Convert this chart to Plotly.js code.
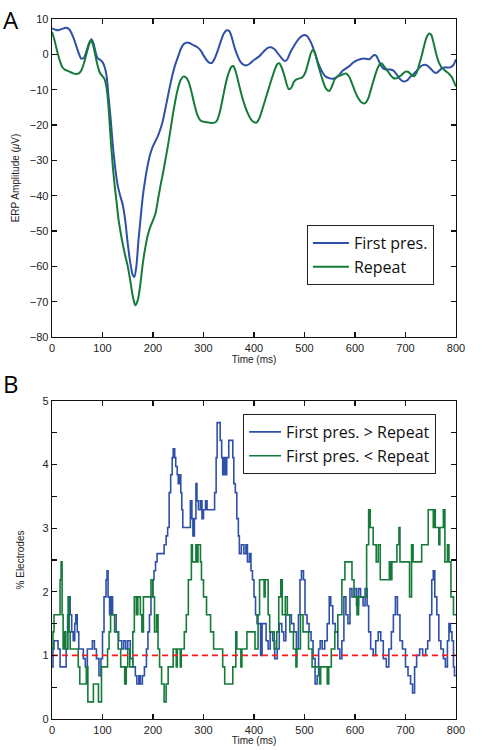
<!DOCTYPE html>
<html>
<head>
<meta charset="utf-8">
<script src="https://cdn.plot.ly/plotly-3.0.1.min.js"></script>
<style>html,body{margin:0;padding:0;background:#fff;}#chart{width:487px;height:750px;}</style>
</head>
<body>
<div id="chart"></div>
<script>
// ---------- Panel A: ERP waveforms ----------
const erpTimeFirst = [0,6,12,20,27,33,38,43,48,53,58,63,68,73,78,82,86,90,96,100,104,108,112,116,120,125,130,135,140,145,150,155,160,163,167,171,175,180,185,190,195,200,205,210,215,220,225,230,235,240,245,250,255,260,266,272,280,288,295,300,306,312,317,322,328,334,340,346,351,356,362,368,374,380,386,392,398,404,410,416,422,428,434,440,446,452,458,462,466,472,478,484,490,496,500,505,510,515,520,525,530,536,542,550,556,563,570,576,583,590,596,603,610,617,623,629,633,638,642,647,652,657,662,670,676,682,688,694,698,703,708,714,720,726,731,736,741,746,752,757,762,767,772,777,784,790,795,800];
const erpFirst = [7.3,7.0,6.8,7.2,7.5,7.2,6.2,4.5,2.4,0.3,-1.2,-1.0,0.8,3.0,4.3,3.2,0.8,-1.0,-1.6,-2.2,-3.5,-6.0,-12,-18,-25,-32,-37,-40,-42.5,-47,-53.6,-59,-62.5,-63,-60,-53,-47,-40,-35,-31,-28,-26,-24.5,-23,-21,-18.5,-15,-11.5,-8,-5,-2.5,-0.5,1.5,2.8,3.3,3.2,2.6,2.0,1.0,-0.3,-1.6,-2.4,-2.4,-1.2,1.0,3.6,5.8,6.8,6.6,4.8,1.7,-0.6,-2.3,-3.0,-3.1,-2.6,-1.8,-1.2,-0.6,0.3,1.2,1.9,2.0,1.5,0.5,-0.6,-1.6,-1.9,-1.4,0.6,2.1,3.5,4.6,5.3,5.5,5.2,4.1,2.6,0.6,-1.6,-3.5,-5.2,-6.3,-6.8,-6.9,-6.6,-5.6,-4.6,-3.9,-3.2,-2.4,-1.8,-1.4,-1.2,-1.3,-1.4,-0.8,-0.2,-0.4,-1.8,-3.3,-4.1,-4.3,-4.3,-4.6,-5.6,-6.8,-7.6,-7.7,-7.4,-6.6,-5.8,-5.0,-4.0,-3.3,-3.0,-3.0,-3.5,-4.4,-5.1,-5.2,-4.6,-4.0,-3.7,-3.7,-3.6,-3.0,-1.4];

const erpTimeRepeat = [0,5,10,15,20,25,30,36,42,48,53,58,63,68,73,77,81,85,90,95,100,104,108,112,116,120,124,128,132,136,140,145,150,155,160,165,170,175,180,185,190,195,200,205,210,215,220,225,230,235,240,245,250,255,260,265,270,276,282,288,294,300,310,320,326,332,338,344,350,355,359,364,370,376,382,388,394,400,405,410,416,422,428,434,440,446,450,455,460,465,469,474,479,484,490,496,502,508,513,517,521,526,531,537,543,549,554,559,565,571,577,582,588,594,600,606,612,618,622,627,632,638,644,649,653,658,664,670,676,682,688,694,700,706,712,717,722,727,732,737,742,747,751,756,761,766,771,776,781,786,791,796,800];
const erpRepeat = [6.4,4.0,1.0,-1.6,-3.5,-4.3,-4.6,-5.0,-5.4,-5.6,-5.4,-4.6,-2.6,0.0,2.6,4.0,2.8,0.3,-3.0,-5.3,-6.2,-7.0,-9.5,-15,-23.6,-31,-37,-42,-47,-50.5,-53.6,-57,-60,-64,-68.5,-71,-69.5,-65,-59,-54.5,-51,-48.7,-47,-45,-41,-37,-33.5,-29.5,-25.5,-21,-16.5,-12.5,-9.3,-7.2,-6.3,-6.5,-7.6,-10.5,-14.2,-17.2,-18.7,-19.1,-19.3,-19.4,-18.9,-16.5,-12.5,-8.3,-5.2,-3.6,-3.3,-5.0,-8.4,-11.8,-14.6,-16.8,-18.4,-19.2,-19.3,-18.3,-15.8,-13.0,-10.2,-7.4,-4.8,-2.8,-2.5,-3.8,-6.0,-8.6,-9.9,-9.4,-7.8,-7.1,-6.8,-6.5,-5.0,-2.0,0.5,1.3,0.2,-2.5,-5.0,-7.8,-9.8,-10.4,-9.2,-7.3,-6.2,-6.0,-5.6,-5.4,-6.2,-8.2,-10.5,-12.3,-13.5,-13.9,-13.6,-12.2,-9.7,-6.8,-4.2,-2.8,-2.6,-3.5,-4.6,-5.8,-6.7,-6.8,-6.3,-5.6,-4.9,-5.0,-5.9,-6.2,-5.2,-2.9,-0.4,2.5,4.9,5.9,5.5,3.0,0.0,-2.3,-3.6,-4.3,-4.9,-5.5,-6.3,-7.8,-9.1];

// ---------- Panel B: % electrodes with significant difference ----------
const pctTimeGreater = [0,2,4,12,16,26,28,31,33,36,39,42,45,47,50,53,58,62,66,70,76,80,84,88,93,97,100,103,107,109,111,114,117,120,124,127,132,138,142,146,150,155,160,165,168,172,175,179,183,187,190,193,196,199,202,205,208,222,226,229,232,235,238,240,243,245,248,250,253,255,257,259,272,274,277,279,282,285,287,290,294,297,300,304,307,312,318,322,325,327,331,333,336,338,340,343,346,350,355,358,360,363,366,369,371,375,380,384,387,391,394,397,400,403,406,411,413,416,420,424,428,432,437,441,446,450,455,459,463,469,474,479,484,488,491,494,498,501,505,509,513,517,521,525,528,531,535,540,545,549,552,556,561,566,570,574,578,582,586,590,594,599,603,607,611,616,620,624,627,631,636,641,646,651,656,662,667,672,676,680,684,689,694,700,705,710,714,718,722,728,734,740,744,748,752,755,758,762,766,770,775,779,783,786,789,792,795,797,800];
const pctGreater = [0.82,1.10,1.23,1.10,0.82,0.82,1.10,1.64,1.92,1.64,1.37,1.23,1.50,1.64,1.37,1.10,1.10,0.95,0.82,1.10,1.10,1.23,1.10,0.95,0.68,0.95,1.37,1.92,2.19,2.33,1.92,1.64,1.92,1.64,1.64,1.37,1.23,1.10,1.23,1.10,1.23,0.95,0.82,0.68,0.55,0.68,0.55,0.68,0.82,1.10,1.37,1.64,1.92,2.19,2.33,2.47,2.60,2.74,2.88,3.01,3.56,3.84,4.11,4.25,4.11,3.97,3.84,3.70,3.84,3.56,3.29,3.01,3.01,3.43,3.15,2.88,3.15,3.70,3.43,3.29,3.43,3.15,3.29,3.43,3.29,3.29,3.29,3.56,4.11,4.66,4.66,4.38,4.11,3.84,4.11,3.84,4.11,4.38,4.38,4.11,3.70,3.56,3.15,2.88,2.60,2.74,2.60,2.74,2.47,2.60,2.33,2.19,1.92,1.64,1.50,1.50,1.00,1.50,1.50,1.23,1.10,1.37,1.23,0.95,1.10,1.50,1.37,1.23,1.64,1.64,1.50,1.37,1.10,1.64,2.19,2.33,2.19,1.64,1.50,1.37,1.23,0.95,0.55,0.68,1.10,1.23,1.10,1.23,1.50,1.92,1.78,1.50,1.37,1.10,0.95,1.23,1.92,1.64,1.50,2.05,1.92,2.05,1.78,2.05,1.92,1.78,2.05,1.78,1.37,1.10,1.00,1.23,1.37,1.23,0.95,0.82,1.10,1.37,1.64,1.92,1.64,1.23,1.10,0.82,0.68,0.55,0.41,0.82,1.00,1.10,1.00,1.10,1.23,1.64,2.19,2.33,1.92,1.64,1.23,1.10,0.95,0.82,1.23,1.50,1.37,1.23,0.82,0.68,0.68];

const pctTimeLess = [0,2,4,15,16,18,20,22,24,27,31,32,34,36,52,55,68,71,82,92,98,110,113,116,118,124,126,131,136,144,147,150,154,160,163,167,170,175,178,181,196,200,203,207,210,213,217,222,226,230,240,246,248,254,256,262,266,270,276,278,285,287,289,294,296,300,306,314,320,338,342,358,364,366,374,376,386,402,408,411,420,422,428,431,440,445,449,453,456,462,466,471,478,483,485,492,497,508,515,530,532,545,548,553,560,566,574,580,594,598,604,607,623,627,630,636,642,646,650,668,670,673,683,687,689,708,712,715,732,745,755,757,759,766,768,775,778,783,786,790,795,800];
const pctLess = [1.10,1.37,1.64,1.64,2.19,2.47,1.64,1.10,1.37,1.10,1.37,1.92,1.37,1.10,0.82,0.55,0.82,0.27,0.55,0.27,0.82,1.10,1.37,1.64,1.64,1.37,1.37,1.10,0.82,0.55,0.82,1.10,0.82,1.37,1.92,1.64,1.92,1.64,1.37,1.92,2.19,1.92,1.37,1.64,1.10,0.82,0.55,0.27,0.55,0.82,1.10,0.82,1.10,0.82,1.10,1.37,1.64,2.19,2.74,2.47,2.74,2.47,2.74,2.47,2.19,1.92,1.64,1.37,1.10,0.82,0.55,0.82,1.37,1.10,0.82,1.10,1.37,1.10,1.64,2.19,1.92,2.19,1.64,1.37,1.10,1.37,1.92,2.19,1.64,1.92,1.64,1.37,1.10,0.82,1.10,1.64,1.37,1.10,0.82,0.55,0.82,0.55,0.82,1.10,1.37,1.64,2.19,2.47,2.19,1.92,1.64,1.92,2.74,3.29,3.01,2.74,2.47,2.74,2.19,2.47,2.19,2.47,2.74,3.01,2.47,1.92,2.74,2.47,2.74,3.29,3.01,3.29,3.01,2.74,3.01,3.29,2.47,2.74,2.47,1.92,1.64,1.64];

const chanceTime = [0, 800];
const chanceLevel = [1, 1];

const xTickVals = [0,100,200,300,400,500,600,700,800];
const yTickValsA = [-80,-70,-60,-50,-40,-30,-20,-10,0,10];
const yTickValsB = [0,0.5,1,1.5,2,2.5,3,3.5,4,4.5,5];
const yTickTextB = ['0','','1','','2','','3','','4','','5'];

const legendA = ['First pres.', 'Repeat'];
const legendB = ['First pres. > Repeat', 'First pres. < Repeat'];

const BLUE = '#2f50a8';
const GREEN = '#157a3a';

const traces = [
  {x: erpTimeFirst, y: erpFirst, type:'scatter', mode:'lines', name: legendA[0],
   line:{color:BLUE, width:2, shape:'spline', smoothing:0.8}, xaxis:'x', yaxis:'y', legend:'legend'},
  {x: erpTimeRepeat, y: erpRepeat, type:'scatter', mode:'lines', name: legendA[1],
   line:{color:GREEN, width:2, shape:'spline', smoothing:0.8}, xaxis:'x', yaxis:'y', legend:'legend'},
  {x: pctTimeGreater, y: pctGreater, type:'scatter', mode:'lines', name: legendB[0],
   line:{color:BLUE, width:1.6, shape:'hv'}, xaxis:'x2', yaxis:'y2', legend:'legend2'},
  {x: pctTimeLess, y: pctLess, type:'scatter', mode:'lines', name: legendB[1],
   line:{color:GREEN, width:1.6, shape:'hv'}, xaxis:'x2', yaxis:'y2', legend:'legend2'},
  {x: chanceTime, y: chanceLevel, type:'scatter', mode:'lines', showlegend:false,
   line:{color:'#ff1a1a', width:1.6, dash:'6px,4px'}, xaxis:'x2', yaxis:'y2', hoverinfo:'skip'}
];

const tickFont = {family:'Liberation Sans, Arial, sans-serif', size:11, color:'#222'};
const titleFont = {family:'Liberation Sans, Arial, sans-serif', size:10, color:'#222'};
const axisCommon = {
  showline:true, linecolor:'#111', linewidth:1.3, mirror:'ticks',
  ticks:'inside', ticklen:5, tickwidth:1.1, tickcolor:'#111',
  showgrid:false, zeroline:false, tickfont:tickFont, automargin:false, fixedrange:true
};

const layout = {
  width:487, height:750,
  margin:{l:52, r:31, t:19, b:31},
  paper_bgcolor:'#fff', plot_bgcolor:'#fff',
  showlegend:true,
  xaxis: Object.assign({}, axisCommon, {domain:[0,1], anchor:'y', range:[0,800], tickvals:xTickVals,
    title:{text:'Time (ms)', font:titleFont, standoff:0}}),
  yaxis: Object.assign({}, axisCommon, {domain:[0.5457,1], anchor:'x', range:[-80,10], tickvals:yTickValsA,
    title:{text:'ERP Amplitude (<i>μ</i>V)', font:titleFont, standoff:8}}),
  xaxis2: Object.assign({}, axisCommon, {domain:[0,1], anchor:'y2', range:[0,800], tickvals:xTickVals,
    title:{text:'Time (ms)', font:titleFont, standoff:0}}),
  yaxis2: Object.assign({}, axisCommon, {domain:[0,0.4543], anchor:'x2', range:[0,5], tickvals:yTickValsB, ticktext:yTickTextB,
    title:{text:'% Electrodes', font:titleFont, standoff:16}}),
  legend: {x:0.631, y:0.7057, xanchor:'left', yanchor:'top', bgcolor:'#fff', bordercolor:'#222', borderwidth:1,
    font:{family:'Open Sans, sans-serif', size:16, color:'#111'}, tracegroupgap:0, itemwidth:36},
  legend2: {x:0.473, y:0.4357, xanchor:'left', yanchor:'top', bgcolor:'#fff', bordercolor:'#222', borderwidth:1,
    font:{family:'Open Sans, sans-serif', size:16, color:'#111'}, tracegroupgap:0, itemwidth:32},
  annotations:[
    {text:'A', xref:'paper', yref:'paper', x:-0.126, y:1.026, xanchor:'left', yanchor:'top', showarrow:false,
     font:{family:'Open Sans, sans-serif', size:24, color:'#000'}},
    {text:'B', xref:'paper', yref:'paper', x:-0.126, y:0.506, xanchor:'left', yanchor:'top', showarrow:false,
     font:{family:'Open Sans, sans-serif', size:24, color:'#000'}}
  ]
};

Plotly.newPlot('chart', traces, layout, {displayModeBar:false, staticPlot:true});
</script>
</body>
</html>
